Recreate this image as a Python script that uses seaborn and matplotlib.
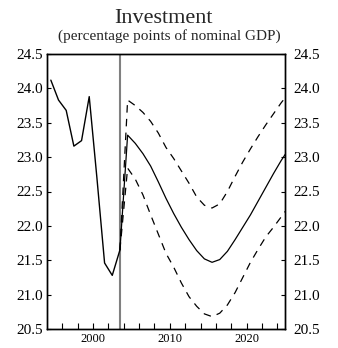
import matplotlib
matplotlib.use("Agg")
import matplotlib.pyplot as plt
import matplotlib.ticker as mticker
import seaborn as sns
import pandas as pd

# history (annual, plotted at mid-year)
hist_years = [1994.5, 1995.5, 1996.5, 1997.5, 1998.5, 1999.5, 2000.5, 2001.5, 2002.5, 2003.5]
hist_values = [24.12, 23.83, 23.68, 23.16, 23.24, 23.88, 22.70, 21.46, 21.28, 21.65]

# projection with upper / lower bands
proj_years = [2003.5 + i for i in range(23)]
proj_central = [21.65, 23.32, 23.20, 23.05, 22.87, 22.64, 22.40, 22.18, 21.98, 21.80, 21.64,
                21.52, 21.47, 21.51, 21.63, 21.80, 21.98, 22.16, 22.36, 22.56, 22.76, 22.95, 23.12]
proj_upper = [21.65, 23.83, 23.75, 23.65, 23.52, 23.35, 23.14, 22.98, 22.80, 22.62, 22.42,
              22.30, 22.26, 22.32, 22.50, 22.72, 22.93, 23.12, 23.30, 23.47, 23.63, 23.79, 23.93]
proj_lower = [21.65, 22.84, 22.68, 22.45, 22.16, 21.88, 21.60, 21.40, 21.17, 20.97, 20.83,
              20.72, 20.68, 20.73, 20.85, 21.03, 21.25, 21.47, 21.66, 21.84, 21.98, 22.13, 22.28]

forecast_start = 2003.5
x_ticks = list(range(1996, 2025, 2))
x_labels = {2000: "2000", 2010: "2010", 2020: "2020"}
y_ticks = [20.5, 21.0, 21.5, 22.0, 22.5, 23.0, 23.5, 24.0, 24.5]

sns.set_theme(style="ticks")
plt.rcParams["font.family"] = ["Liberation Serif", "DejaVu Serif"]

hist = pd.DataFrame({"year": hist_years, "value": hist_values})
proj = pd.DataFrame({"year": proj_years, "central": proj_central,
                     "upper": proj_upper, "lower": proj_lower})

fig = plt.figure(figsize=(3.38, 3.48), dpi=100)
ax = fig.add_axes([47 / 338, 19 / 348, 238 / 338, 275 / 348])

ax.axvline(forecast_start, color="#808080", lw=1.5, zorder=1)
sns.lineplot(data=hist, x="year", y="value", ax=ax, color="black", lw=1.0)
sns.lineplot(data=proj, x="year", y="central", ax=ax, color="black", lw=0.9)
for col in ["upper", "lower"]:
    sns.lineplot(data=proj, x="year", y=col, ax=ax, color="black", lw=0.9,
                 linestyle=(0, (6, 5)))

ax.set_xlim(1994, 2025)
ax.set_ylim(20.5, 24.5)
ax.set_xticks(x_ticks)
ax.set_xticklabels([x_labels.get(t, "") for t in x_ticks], fontsize=9)
ax.set_yticks(y_ticks)
ax.yaxis.set_major_formatter(mticker.FormatStrFormatter("%.1f"))
ax.tick_params(axis="x", direction="in", length=4, width=0.8, pad=3, colors="black")
ax.tick_params(axis="y", direction="in", length=3, width=0.8, pad=3, labelsize=11,
               colors="black")
ax.set_xlabel("")
ax.set_ylabel("")
for s in ax.spines.values():
    s.set_color("black")
    s.set_linewidth(1.0)

ax2 = ax.twinx()
ax2.set_ylim(ax.get_ylim())
ax2.set_yticks(y_ticks)
ax2.yaxis.set_major_formatter(mticker.FormatStrFormatter("%.1f"))
ax2.tick_params(axis="y", direction="in", length=3, width=0.8, pad=6, labelsize=11,
                colors="black")
for s in ax2.spines.values():
    s.set_color("black")
    s.set_linewidth(1.0)

fig.text(0.485, 0.934, "Investment", ha="center", va="baseline", fontsize=16)
fig.text(0.50, 0.885, "(percentage points of nominal GDP)", ha="center",
         va="baseline", fontsize=11)

fig.savefig("out.png", dpi=100)
